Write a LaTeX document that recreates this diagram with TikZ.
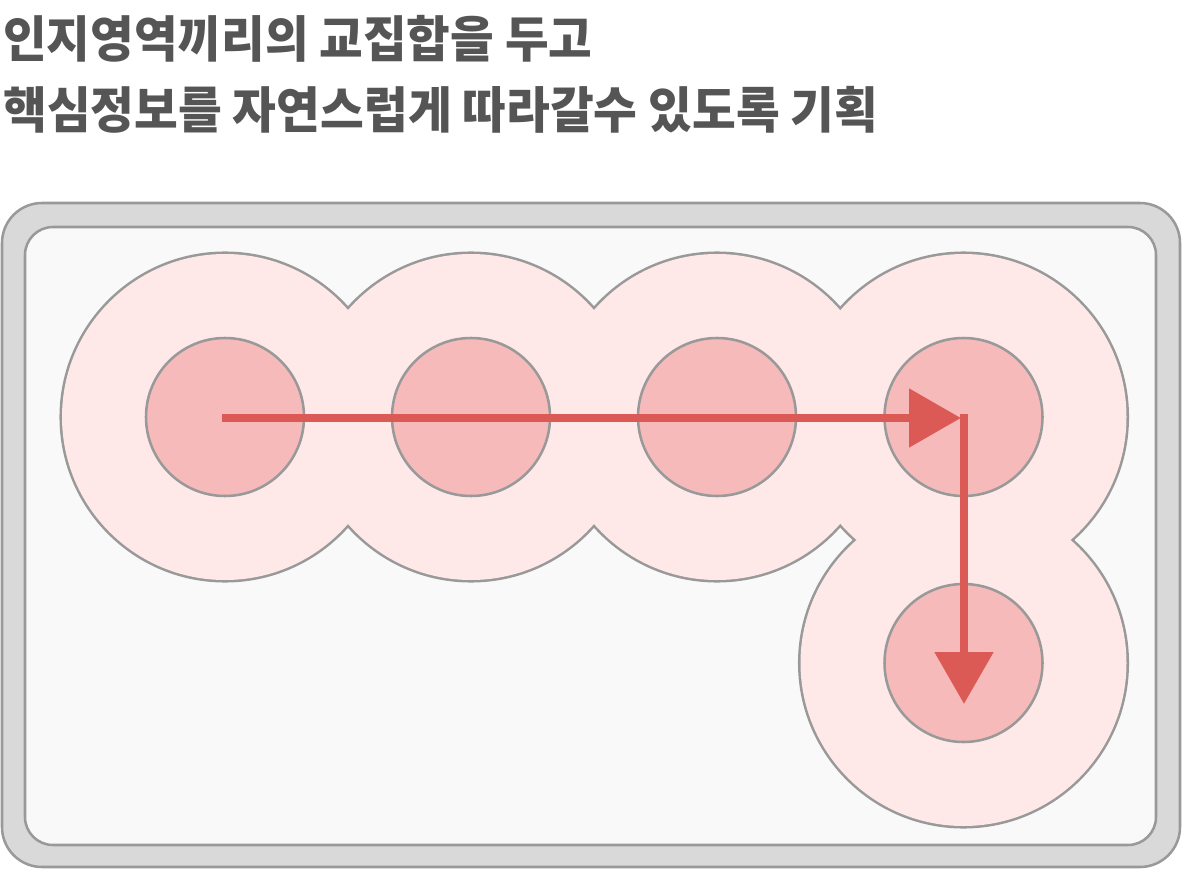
\documentclass[tikz,border=0pt]{standalone}
\usepackage{fontspec}
\usepackage{graphicx}
\newfontfamily\kr{Noto Sans CJK KR}
\usetikzlibrary{arrows.meta}
\definecolor{txtgray}{HTML}{555555}
\definecolor{edgegray}{HTML}{999999}
\definecolor{outerfill}{HTML}{D9D9D9}
\definecolor{innerfill}{HTML}{F9F9F9}
\definecolor{bigpink}{HTML}{FEE8E8}
\definecolor{smallpink}{HTML}{F6BABA}
\definecolor{arrowred}{HTML}{DC5A55}
\tikzset{
  title/.style={anchor=north west, inner sep=0pt, text=txtgray, font=\kr\bfseries},
  outerbox/.style={fill=outerfill, draw=edgegray, line width=1.9pt, rounded corners=30pt},
  innerbox/.style={fill=innerfill, draw=edgegray, line width=1.9pt, rounded corners=21pt},
  bigring/.style={draw=edgegray, line width=3.8pt},
  bigdisc/.style={fill=bigpink},
  smalldisc/.style={fill=smallpink, draw=edgegray, line width=1.9pt},
  flow/.style={draw=arrowred, line width=6.4pt, -{Triangle[length=39pt, width=42.75pt]}, arrowred}
}
\begin{document}
\begin{tikzpicture}[x=0.75pt, y=-0.75pt]
\useasboundingbox (0,0) rectangle (1182,870);
% title
\node[title] (t1) at (3,15) {\resizebox*{441.75pt}{35.25pt}{\kr\bfseries 인지영역끼리의 교집합을 두고}};
\node[title] (t2) at (3,86) {\resizebox*{656.25pt}{35.25pt}{\kr\bfseries 핵심정보를 자연스럽게 따라갈수 있도록 기획}};
% frames
\path[outerbox] (2,203) rectangle (1180,867);
\path[innerbox] (25,227) rectangle (1156,845);
% centres
\coordinate (c1) at (225,417);
\coordinate (c2) at (471,417);
\coordinate (c3) at (717,417);
\coordinate (c4) at (963.5,417);
\coordinate (c5) at (963.5,663);
% union of big circles
\foreach \c in {c1,c2,c3,c4,c5} \path[bigring] (\c) circle[radius=163];
\foreach \c in {c1,c2,c3,c4,c5} \path[bigdisc] (\c) circle[radius=163];
% small circles
\foreach \c in {c1,c2,c3,c4,c5} \path[smalldisc] (\c) circle[radius=79];
% arrows
\coordinate (a1) at (222,418);
\coordinate (a4) at (964,418);
\coordinate (a5) at (964,704);
\draw[flow, shorten >=2.25pt] (a1) -- (a4);
\draw[flow, line cap=rect] (a4) -- (a5);
\end{tikzpicture}
\end{document}
